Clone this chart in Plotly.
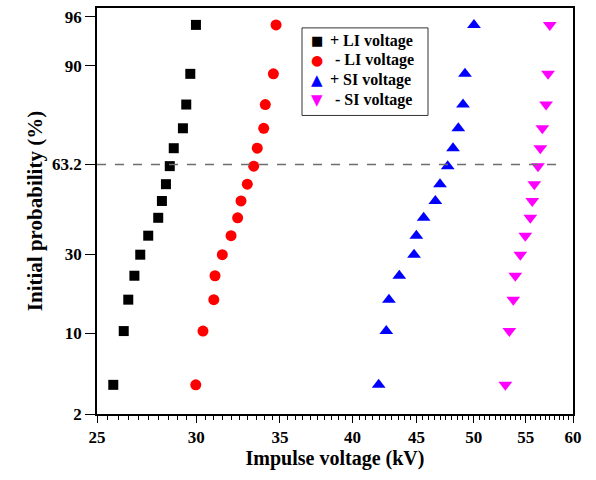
from statistics import NormalDist
import math
import plotly.graph_objects as go

# Cumulative probability (%) shared by every test series (15 breakdowns each)
prob_pct = [3.8, 10.4, 16.9, 23.3, 29.9, 36.5, 43.1, 49.5, 55.9, 62.6, 68.9, 75.3, 81.9, 88.6, 95.3]

# Breakdown voltages (kV), sorted ascending
pos_li = [25.76, 26.26, 26.48, 26.78, 27.07, 27.47, 27.98, 28.17, 28.38, 28.58, 28.79, 29.28, 29.46, 29.68, 29.99]
neg_li = [29.98, 30.38, 30.99, 31.06, 31.48, 31.99, 32.38, 32.58, 32.96, 33.35, 33.57, 33.97, 34.07, 34.58, 34.75]
pos_si = [41.97, 42.56, 42.77, 43.59, 44.79, 44.98, 45.59, 46.58, 46.98, 47.65, 48.12, 48.59, 49.01, 49.19, 50.01]
neg_si = [52.98, 53.37, 53.76, 53.96, 54.46, 54.96, 55.47, 55.67, 55.88, 56.26, 56.50, 56.71, 57.10, 57.31, 57.49]

y_ticks_pct = [2, 10, 30, 63.2, 90, 96]
y_tick_text = ["2", "10", "30", "63.2", "90", "96"]
x_ticks = [25, 30, 35, 40, 45, 50, 55, 60]
x_minor = [25 + 0.5 * k for k in range(71)]

nd = NormalDist()


def probit(pct):
    return nd.inv_cdf(pct / 100.0)


yz = [probit(p) for p in prob_pct]

FONT = "Liberation Serif, Times New Roman, serif"

# name, data, marker symbol, colour, marker size, key glyph, key glyph size
series = [
    ("+ LI voltage", pos_li, "square", "black", 10, "\u25A0", 13),
    ("- LI voltage", neg_li, "circle", "red", 11, "\u25CF", 14),
    ("+ SI voltage", pos_si, "triangle-up", "blue", 12, "\u25B2", 15),
    ("- SI voltage", neg_si, "triangle-down", "magenta", 12, "\u25BC", 15),
]

fig = go.Figure()
for name, xs, sym, col, sz, _, _ in series:
    fig.add_trace(go.Scatter(
        x=xs, y=yz, mode="markers", name=name, showlegend=False,
        marker=dict(symbol=sym, color=col, size=sz, line=dict(width=0)),
    ))

# Reference line at the 63.2 % level
fig.add_shape(type="line", xref="x domain", yref="y",
              x0=0, x1=0.973, y0=probit(63.2), y1=probit(63.2),
              line=dict(color="#6e6e6e", width=1.6, dash="dash"))

# Boxed key in the upper middle of the plot
fig.add_shape(type="rect", xref="paper", yref="paper",
              x0=0.4307, x1=0.6954, y0=0.7353, y1=0.951,
              line=dict(color="#333", width=1), fillcolor="white", layer="above")
key_y = [0.919, 0.8725, 0.8235, 0.7745]
for (name, _, _, col, _, glyph, gsz), ky in zip(series, key_y):
    fig.add_annotation(xref="paper", yref="paper", x=0.4622, y=ky,
                       text=glyph, showarrow=False, xanchor="center", yanchor="middle",
                       font=dict(family="DejaVu Sans", size=gsz, color=col))
    tx = 0.4853 if name.startswith("+") else 0.4958
    fig.add_annotation(xref="paper", yref="paper", x=tx, y=ky,
                       text=name, showarrow=False, xanchor="left", yanchor="middle",
                       font=dict(family=FONT, size=16, color="black", weight="bold"))

fig.update_layout(
    width=596, height=480,
    margin=dict(l=97, r=23, t=6, b=66),
    paper_bgcolor="white", plot_bgcolor="white",
    font=dict(family=FONT, size=17, color="black"),
    showlegend=False,
    xaxis=dict(
        type="log",
        range=[math.log10(25), math.log10(60)],
        tickvals=x_ticks, ticktext=[str(v) for v in x_ticks],
        ticks="outside", ticklen=7, tickwidth=1.2, tickcolor="black",
        tickfont=dict(family=FONT, size=17, weight="bold"),
        minor=dict(tickvals=x_minor, ticks="outside", ticklen=4, tickwidth=1, tickcolor="black"),
        showline=True, linecolor="black", linewidth=1.6, mirror=True,
        showgrid=False, zeroline=False,
        title=dict(text="Impulse voltage (kV)", standoff=4,
                   font=dict(family=FONT, size=20, weight="bold")),
    ),
    yaxis=dict(
        range=[probit(2), 1.8365],
        tickvals=[probit(v) for v in y_ticks_pct], ticktext=y_tick_text,
        ticks="outside", ticklen=10, tickwidth=1.2, tickcolor="black",
        tickfont=dict(family=FONT, size=17, weight="bold"),
        showline=True, linecolor="black", linewidth=1.6, mirror=True,
        showgrid=False, zeroline=False,
        title=dict(text="Initial probability (%)", standoff=4,
                   font=dict(family=FONT, size=21, weight="bold")),
    ),
)

fig.write_html("out.html")
